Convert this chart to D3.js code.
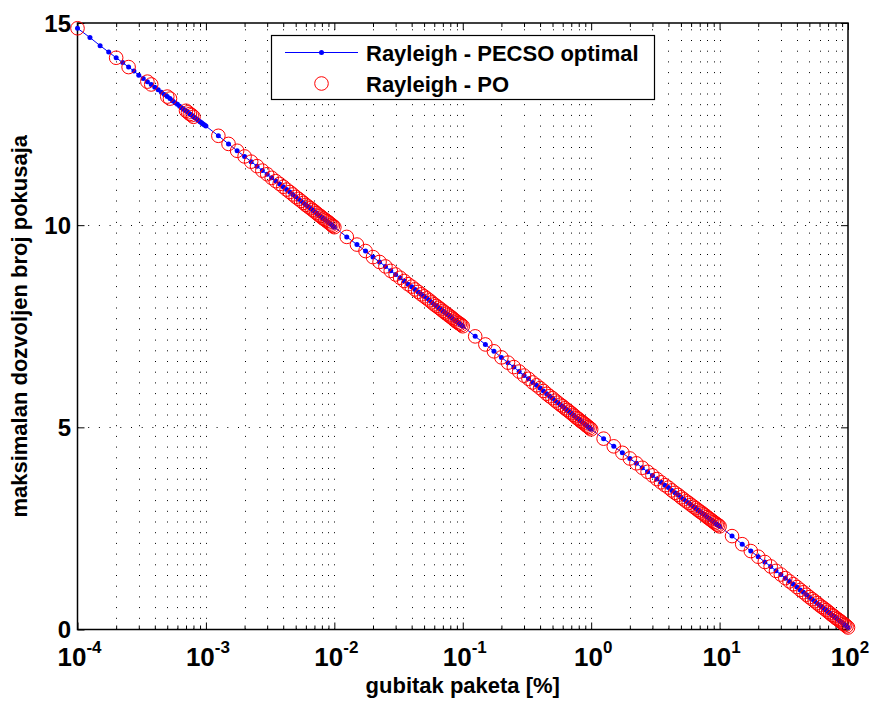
<!DOCTYPE html>
<html><head><meta charset="utf-8">
<script src="https://cdn.jsdelivr.net/npm/d3@7"></script>
<style>
body{margin:0;background:#fff}
svg{display:block}
text{font-family:"Liberation Sans",Arial,Helvetica,sans-serif;font-weight:bold;fill:#000}
</style>
</head><body>
<svg id="c" width="870" height="702"></svg>
<script>
// ---------- data ----------
const pecsoX = [
1e-4,1.25e-4,1.5e-4,1.75e-4,2e-4,2.25e-4,2.5e-4,2.75e-4,3e-4,3.25e-4,3.5e-4,3.75e-4,4e-4,4.25e-4,4.5e-4,4.75e-4,5e-4,5.25e-4,5.5e-4,5.75e-4,6e-4,6.25e-4,6.5e-4,6.75e-4,7e-4,7.25e-4,7.5e-4,7.75e-4,8e-4,8.25e-4,8.5e-4,8.75e-4,9e-4,9.25e-4,9.5e-4,9.75e-4,
1e-3,1.25e-3,1.5e-3,1.75e-3,2e-3,2.25e-3,2.5e-3,2.75e-3,3e-3,3.25e-3,3.5e-3,3.75e-3,4e-3,4.25e-3,4.5e-3,4.75e-3,5e-3,5.25e-3,5.5e-3,5.75e-3,6e-3,6.25e-3,6.5e-3,6.75e-3,7e-3,7.25e-3,7.5e-3,7.75e-3,8e-3,8.25e-3,8.5e-3,8.75e-3,9e-3,9.25e-3,9.5e-3,9.75e-3,
1e-2,1.25e-2,1.5e-2,1.75e-2,2e-2,2.25e-2,2.5e-2,2.75e-2,3e-2,3.25e-2,3.5e-2,3.75e-2,4e-2,4.25e-2,4.5e-2,4.75e-2,5e-2,5.25e-2,5.5e-2,5.75e-2,6e-2,6.25e-2,6.5e-2,6.75e-2,7e-2,7.25e-2,7.5e-2,7.75e-2,8e-2,8.25e-2,8.5e-2,8.75e-2,9e-2,9.25e-2,9.5e-2,9.75e-2,
1e-1,1.25e-1,1.5e-1,1.75e-1,2e-1,2.25e-1,2.5e-1,2.75e-1,3e-1,3.25e-1,3.5e-1,3.75e-1,4e-1,4.25e-1,4.5e-1,4.75e-1,5e-1,5.25e-1,5.5e-1,5.75e-1,6e-1,6.25e-1,6.5e-1,6.75e-1,7e-1,7.25e-1,7.5e-1,7.75e-1,8e-1,8.25e-1,8.5e-1,8.75e-1,9e-1,9.25e-1,9.5e-1,9.75e-1,
1,1.25,1.5,1.75,2,2.25,2.5,2.75,3,3.25,3.5,3.75,4,4.25,4.5,4.75,5,5.25,5.5,5.75,6,6.25,6.5,6.75,7,7.25,7.5,7.75,8,8.25,8.5,8.75,9,9.25,9.5,9.75,
10,12.5,15,17.5,20,22.5,25,27.5,30,32.5,35,37.5,40,42.5,45,47.5,50,52.5,55,57.5,60,62.5,65,67.5,70,72.5,75,77.5,80,82.5,85,87.5,90,92.5,95,97.5,
100];
const pecsoY = [
14.87,14.64,14.44,14.28,14.14,14.02,13.91,13.81,13.71,13.63,13.55,13.48,13.41,13.35,13.29,13.23,13.18,13.13,13.08,13.03,12.99,12.94,12.90,12.86,12.83,12.79,12.75,12.72,12.68,12.65,12.62,12.59,12.56,12.53,12.50,12.48,
12.45,12.21,12.01,11.84,11.70,11.57,11.46,11.35,11.26,11.17,11.09,11.02,10.95,10.88,10.82,10.76,10.70,10.65,10.60,10.55,10.50,10.46,10.42,10.38,10.34,10.30,10.26,10.23,10.19,10.16,10.13,10.10,10.07,10.04,10.01,9.98,
9.95,9.71,9.52,9.36,9.21,9.09,8.98,8.87,8.78,8.70,8.62,8.54,8.48,8.41,8.35,8.29,8.24,8.19,8.14,8.09,8.04,8.00,7.96,7.92,7.88,7.84,7.81,7.77,7.74,7.71,7.67,7.64,7.61,7.58,7.56,7.53,
7.50,7.25,7.05,6.88,6.73,6.60,6.49,6.38,6.28,6.20,6.11,6.04,5.97,5.90,5.83,5.77,5.72,5.66,5.61,5.56,5.52,5.47,5.43,5.39,5.35,5.31,5.27,5.23,5.20,5.16,5.13,5.10,5.07,5.04,5.01,4.98,
4.95,4.72,4.53,4.37,4.23,4.11,4.00,3.90,3.81,3.72,3.64,3.57,3.51,3.44,3.38,3.33,3.27,3.22,3.17,3.13,3.08,3.04,3.00,2.96,2.92,2.89,2.85,2.82,2.78,2.75,2.72,2.69,2.66,2.63,2.60,2.58,
2.55,2.31,2.11,1.94,1.80,1.67,1.56,1.45,1.36,1.27,1.19,1.12,1.05,0.98,0.92,0.86,0.80,0.75,0.70,0.65,0.60,0.56,0.52,0.48,0.44,0.40,0.36,0.33,0.29,0.26,0.23,0.20,0.17,0.14,0.11,0.08,
0.05];
const poX = [
1e-4,2e-4,2.5e-4,3.5e-4,3.75e-4,5e-4,5.25e-4,7e-4,7.25e-4,7.5e-4,7.75e-4,8e-4,
1.25e-3,1.5e-3,1.75e-3,2e-3,2.25e-3,2.5e-3,2.75e-3,3e-3,3.25e-3,3.5e-3,3.75e-3,4e-3,4.25e-3,4.5e-3,4.75e-3,5e-3,5.25e-3,5.5e-3,5.75e-3,6e-3,6.25e-3,6.5e-3,6.75e-3,7e-3,7.25e-3,7.5e-3,7.75e-3,8e-3,8.25e-3,8.5e-3,8.75e-3,9e-3,9.25e-3,9.5e-3,9.75e-3,
1e-2,1.25e-2,1.5e-2,1.75e-2,2e-2,2.25e-2,2.5e-2,2.75e-2,3e-2,3.25e-2,3.5e-2,3.75e-2,4e-2,4.25e-2,4.5e-2,4.75e-2,5e-2,5.25e-2,5.5e-2,5.75e-2,6e-2,6.25e-2,6.5e-2,6.75e-2,7e-2,7.25e-2,7.5e-2,7.75e-2,8e-2,8.25e-2,8.5e-2,8.75e-2,9e-2,9.25e-2,9.5e-2,9.75e-2,
1e-1,1.25e-1,1.5e-1,1.75e-1,2e-1,2.25e-1,2.5e-1,2.75e-1,3e-1,3.25e-1,3.5e-1,3.75e-1,4e-1,4.25e-1,4.5e-1,4.75e-1,5e-1,5.25e-1,5.5e-1,5.75e-1,6e-1,6.25e-1,6.5e-1,6.75e-1,7e-1,7.25e-1,7.5e-1,7.75e-1,8e-1,8.25e-1,8.5e-1,8.75e-1,9e-1,9.25e-1,9.5e-1,9.75e-1,
1,1.25,1.5,1.75,2,2.25,2.5,2.75,3,3.25,3.5,3.75,4,4.25,4.5,4.75,5,5.25,5.5,5.75,6,6.25,6.5,6.75,7,7.25,7.5,7.75,8,8.25,8.5,8.75,9,9.25,9.5,9.75,
10,12.5,15,17.5,20,22.5,25,27.5,30,32.5,35,37.5,40,42.5,45,47.5,50,52.5,55,57.5,60,62.5,65,67.5,70,72.5,75,77.5,80,82.5,85,87.5,90,92.5,95,97.5,
100];
const poY = [
14.87,14.14,13.91,13.55,13.48,13.18,13.13,12.83,12.79,12.75,12.72,12.68,
12.21,12.01,11.84,11.70,11.57,11.46,11.35,11.26,11.17,11.09,11.02,10.95,10.88,10.82,10.76,10.70,10.65,10.60,10.55,10.50,10.46,10.42,10.38,10.34,10.30,10.26,10.23,10.19,10.16,10.13,10.10,10.07,10.04,10.01,9.98,
9.95,9.71,9.52,9.36,9.21,9.09,8.98,8.87,8.78,8.70,8.62,8.54,8.48,8.41,8.35,8.29,8.24,8.19,8.14,8.09,8.04,8.00,7.96,7.92,7.88,7.84,7.81,7.77,7.74,7.71,7.67,7.64,7.61,7.58,7.56,7.53,
7.50,7.25,7.05,6.88,6.73,6.60,6.49,6.38,6.28,6.20,6.11,6.04,5.97,5.90,5.83,5.77,5.72,5.66,5.61,5.56,5.52,5.47,5.43,5.39,5.35,5.31,5.27,5.23,5.20,5.16,5.13,5.10,5.07,5.04,5.01,4.98,
4.95,4.72,4.53,4.37,4.23,4.11,4.00,3.90,3.81,3.72,3.64,3.57,3.51,3.44,3.38,3.33,3.27,3.22,3.17,3.13,3.08,3.04,3.00,2.96,2.92,2.89,2.85,2.82,2.78,2.75,2.72,2.69,2.66,2.63,2.60,2.58,
2.55,2.31,2.11,1.94,1.80,1.67,1.56,1.45,1.36,1.27,1.19,1.12,1.05,0.98,0.92,0.86,0.80,0.75,0.70,0.65,0.60,0.56,0.52,0.48,0.44,0.40,0.36,0.33,0.29,0.26,0.23,0.20,0.17,0.14,0.11,0.08,
0.05];
const xTickExponents = [-4,-3,-2,-1,0,1,2];
const yTickValues = [0,5,10,15];
const seriesNames = ["Rayleigh - PECSO optimal","Rayleigh - PO"];
const xLabel = "gubitak paketa [%]";
const yLabel = "maksimalan dozvoljen broj pokusaja";

// ---------- layout ----------
const L = 77.5, R = 848, T = 23, B = 629.5;
const svg = d3.select("#c");
const x = d3.scaleLog().domain([1e-4, 1e2]).range([L, R]);
const y = d3.scaleLinear().domain([0, 15]).range([B, T]);
const majorX = xTickExponents.map(e => Math.pow(10, e));
const minorX = x.ticks().filter(v => !majorX.some(m => Math.abs(m - v) / m < 1e-9));

// grid (dotted)
const grid = svg.append("g").attr("stroke", "#000").attr("stroke-width", 1).attr("stroke-dasharray", "1,9.7");
grid.selectAll("line.v").data(x.ticks().filter(v => v > 1e-4 && v < 1e2)).join("line")
  .attr("class", "v")
  .attr("x1", d => Math.round(x(d)) + 0.5).attr("x2", d => Math.round(x(d)) + 0.5)
  .attr("y1", B).attr("y2", T);
grid.selectAll("line.h").data(yTickValues.filter(v => v > 0 && v < 15)).join("line")
  .attr("class", "h")
  .attr("y1", d => Math.round(y(d)) + 0.5).attr("y2", d => Math.round(y(d)) + 0.5)
  .attr("x1", L).attr("x2", R);

// axes + ticks (inward, MATLAB box style)
function styleAxis(g) { g.select(".domain").remove(); g.selectAll(".tick line").attr("stroke", "#000").attr("stroke-width", 1); g.selectAll(".tick text").remove(); }
svg.append("g").attr("transform", `translate(0,${B})`).call(d3.axisBottom(x).tickValues(majorX).tickSize(-7).tickFormat("")).call(styleAxis);
svg.append("g").attr("transform", `translate(0,${B})`).call(d3.axisBottom(x).tickValues(minorX).tickSize(-4).tickFormat("")).call(styleAxis);
svg.append("g").attr("transform", `translate(0,${T})`).call(d3.axisTop(x).tickValues(majorX).tickSize(-7).tickFormat("")).call(styleAxis);
svg.append("g").attr("transform", `translate(0,${T})`).call(d3.axisTop(x).tickValues(minorX).tickSize(-4).tickFormat("")).call(styleAxis);
svg.append("g").attr("transform", `translate(${L},0)`).call(d3.axisLeft(y).tickValues(yTickValues).tickSize(-7).tickFormat("")).call(styleAxis);
svg.append("g").attr("transform", `translate(${R},0)`).call(d3.axisRight(y).tickValues(yTickValues).tickSize(-7).tickFormat("")).call(styleAxis);
svg.append("rect").attr("x", L).attr("y", T).attr("width", R - L).attr("height", B - T)
  .attr("fill", "none").attr("stroke", "#000").attr("stroke-width", 1.5);

// tick labels
const xl = svg.append("g").selectAll("text").data(xTickExponents).join("text")
  .attr("x", d => x(Math.pow(10, d)) + 2).attr("y", 666).attr("text-anchor", "middle").style("font-size", "26px");
xl.append("tspan").text("10");
xl.append("tspan").attr("dy", -13).style("font-size", "17px").text(d => String(d).replace("-", "-"));
svg.append("g").selectAll("text").data(yTickValues).join("text")
  .attr("x", 71).attr("y", d => y(d) + 8.5).attr("text-anchor", "end").style("font-size", "24px").text(d => d);

// axis labels
svg.append("text").attr("x", (L + R) / 2).attr("y", 693).attr("text-anchor", "middle").style("font-size", "22px").text(xLabel);
svg.append("text").attr("transform", `translate(27,${(T + B) / 2}) rotate(-90)`).attr("text-anchor", "middle").style("font-size", "22px").text(yLabel);

// series 1: PECSO optimal (line + dots)
const pecso = pecsoX.map((v, i) => [v, pecsoY[i]]);
svg.append("path").datum(pecso).attr("fill", "none").attr("stroke", "#0000ff").attr("stroke-width", 1)
  .attr("d", d3.line().x(d => x(d[0])).y(d => y(d[1])));
svg.append("g").selectAll("circle").data(pecso).join("circle")
  .attr("cx", d => x(d[0])).attr("cy", d => y(d[1])).attr("r", 2.5).attr("fill", "#0000ff");

// series 2: PO (red circles)
const po = poX.map((v, i) => [v, poY[i]]);
svg.append("g").selectAll("circle").data(po).join("circle")
  .attr("cx", d => x(d[0])).attr("cy", d => y(d[1])).attr("r", 6.8)
  .attr("fill", "none").attr("stroke", "#ff0000").attr("stroke-width", 1);

// legend
const lg = svg.append("g");
lg.append("rect").attr("x", 271.5).attr("y", 35.5).attr("width", 383).attr("height", 64)
  .attr("fill", "#fff").attr("stroke", "#000").attr("stroke-width", 1.2);
lg.append("line").attr("x1", 285).attr("x2", 358).attr("y1", 52.5).attr("y2", 52.5).attr("stroke", "#0000ff").attr("stroke-width", 1);
lg.append("circle").attr("cx", 321.5).attr("cy", 52.5).attr("r", 2.5).attr("fill", "#0000ff");
lg.append("circle").attr("cx", 321.5).attr("cy", 83.5).attr("r", 6.8).attr("fill", "none").attr("stroke", "#ff0000").attr("stroke-width", 1);
lg.selectAll("text").data(seriesNames).join("text")
  .attr("x", 366).attr("y", (d, i) => 60.5 + i * 31).style("font-size", "22px").text(d => d);
</script>
</body></html>
